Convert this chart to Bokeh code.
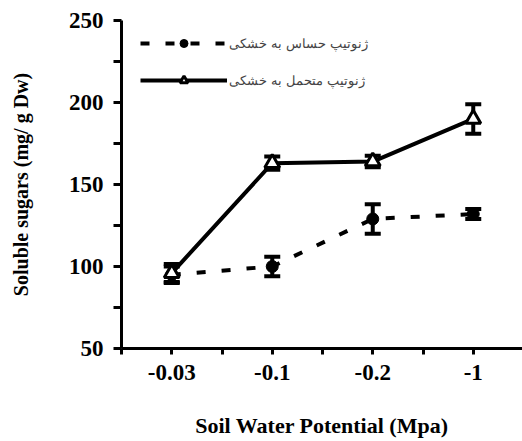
from bokeh.plotting import figure
from bokeh.models import ColumnDataSource, Whisker, TeeHead, FixedTicker, Legend, LegendItem, Range1d
from bokeh.embed import file_html
from bokeh.resources import INLINE

categories = ["-0.03", "-0.1", "-0.2", "-1"]
sensitive = [95, 100, 129, 132]
sensitive_err = [5, 6, 9, 3]
tolerant = [96, 163, 164, 190]
tolerant_err = [5.5, 4, 3.5, 9]
label_sensitive = "ژنوتیپ حساس به خشکی"
label_tolerant = "ژنوتیپ متحمل به خشکی"
y_ticks = [50, 100, 150, 200, 250]
y_minor = [75, 125, 175, 225]

xs = list(range(len(categories)))
x_minor = [-0.5, 0.5, 1.5, 2.5]
src_s = ColumnDataSource(dict(x=xs, y=sensitive,
                              lo=[v - e for v, e in zip(sensitive, sensitive_err)],
                              hi=[v + e for v, e in zip(sensitive, sensitive_err)]))
src_t = ColumnDataSource(dict(x=xs, y=tolerant,
                              lo=[v - e for v, e in zip(tolerant, tolerant_err)],
                              hi=[v + e for v, e in zip(tolerant, tolerant_err)]))

p = figure(width=522, height=441, output_backend="svg", toolbar_location=None,
           x_range=Range1d(-0.5, 3.49), y_range=Range1d(50, 250),
           min_border_left=121, min_border_top=20, min_border_bottom=93, min_border_right=0)
p.outline_line_color = None
p.xgrid.visible = False
p.ygrid.visible = False
p.background_fill_color = "white"
p.border_fill_color = "white"

for src in (src_s, src_t):
    w = Whisker(source=src, base="x", upper="hi", lower="lo", line_width=4, line_color="black",
                upper_head=TeeHead(size=16, line_width=4, line_color="black"),
                lower_head=TeeHead(size=16, line_width=4, line_color="black"),
                level="underlay")
    p.add_layout(w)

ls = p.line("x", "y", source=src_s, line_width=4, line_color="black", line_dash="9 16")
ms = p.scatter("x", "y", source=src_s, marker="circle", size=12, fill_color="black", line_color="black")
lt = p.line("x", "y", source=src_t, line_width=4, line_color="black")
mt = p.scatter("x", "y", source=src_t, marker="triangle", size=15, fill_color="white",
               line_color="black", line_width=3)

legend = Legend(items=[LegendItem(label=label_sensitive, renderers=[ls, ms]),
                       LegendItem(label=label_tolerant, renderers=[lt, mt])],
                location=(19, 258), padding=0, margin=0, spacing=17,
                glyph_width=87, glyph_height=20, label_height=20, label_standoff=2,
                label_text_font="DejaVu Serif", label_text_font_size="13px",
                border_line_alpha=0, background_fill_alpha=0)
p.add_layout(legend, "center")

xa = p.xaxis[0]
xa.ticker = FixedTicker(ticks=sorted(xs + x_minor))
xa.major_label_overrides = {**{i: c for i, c in zip(xs, categories)}, **{m: "" for m in x_minor}}
xa.axis_label = "Soil Water Potential (Mpa)"
ya = p.yaxis[0]
ya.ticker = FixedTicker(ticks=sorted(y_ticks + y_minor))
ya.major_label_overrides = {m: "" for m in y_minor}
ya.axis_label = "Soluble sugars (mg/ g Dw)"

for ax in (xa, ya):
    ax.axis_line_width = 3
    ax.axis_line_color = "black"
    ax.major_tick_line_width = 3
    ax.major_tick_line_color = "black"
    ax.minor_tick_line_color = None
    ax.major_tick_in = 0
    ax.major_label_text_font = "Liberation Serif"
    ax.major_label_text_font_style = "bold"
    ax.major_label_text_font_size = "23px"
    ax.major_label_text_color = "black"
    ax.axis_label_text_font = "Liberation Serif"
    ax.axis_label_text_font_style = "bold"
    ax.axis_label_text_color = "black"

xa.axis_label_text_font_size = "22px"
ya.axis_label_text_font_size = "20px"
xa.major_tick_out = 6
xa.major_label_standoff = 10
xa.axis_label_standoff = 30
ya.major_tick_out = 8
ya.major_label_standoff = 10
ya.axis_label_standoff = 34

open("out.html", "w").write(file_html(p, INLINE))
